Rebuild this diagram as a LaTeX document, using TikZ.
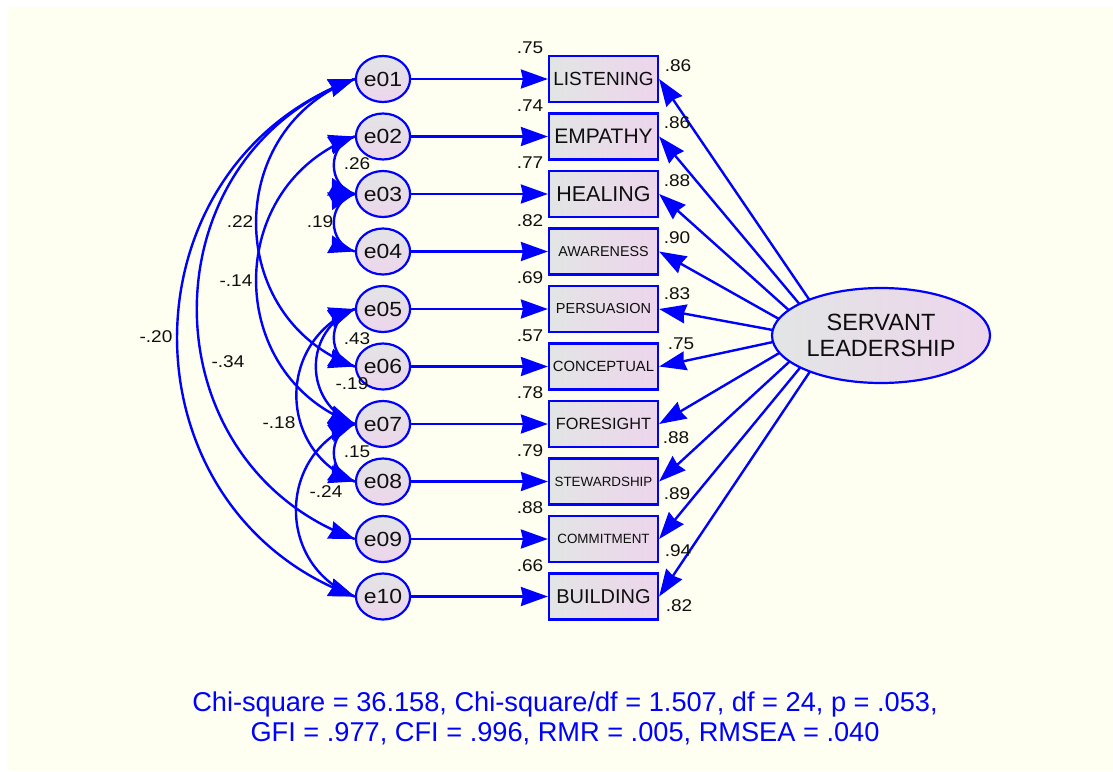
\documentclass[tikz,border=0pt]{standalone}
\usepackage{fontspec}
\setmainfont{Liberation Sans}
\newfontfamily\numfont[FakeStretch=1.12]{Liberation Sans}
\usetikzlibrary{arrows.meta,decorations.markings,shapes.geometric}
\definecolor{bgc}{RGB}{254,255,240}
\definecolor{gA}{RGB}{226,229,229}
\definecolor{gB}{RGB}{237,213,236}
\definecolor{txt}{RGB}{15,15,15}
\definecolor{ablue}{RGB}{0,0,255}
\newcommand\covpair[4]{%
  \draw[covline] (#1.west) to[bend right=#3,looseness=#4] (#2.west);
  \path[covtip] (#1.west) to[bend right=#3,looseness=#4] (#2.west);
  \path[covtip] (#2.west) to[bend left=#3,looseness=#4] (#1.west);}
\begin{document}
\begin{tikzpicture}[x=1pt,y=-1pt,
  errnode/.style={ellipse, draw=ablue, line width=2.2pt, top color=gA, bottom color=gB,
    minimum width=50pt, minimum height=46pt, inner sep=0pt, text=txt,
    font=\numfont\fontsize{20.5}{20.5}\selectfont},
  obs/.style={rectangle, draw=ablue, line width=2.2pt, left color=gA, right color=gB,
    minimum width=109pt, minimum height=46pt, inner sep=0pt, text=txt},
  lat/.style={ellipse, draw=ablue, line width=2.2pt, left color=gA, right color=gB,
    minimum width=218pt, minimum height=95pt, inner sep=0pt, text=txt, align=center,
    font=\fontsize{23.5}{26}\selectfont},
  reg/.style={draw=ablue, line width=2.4pt, -{Stealth[length=27pt,width=19pt,inset=2pt]}},
  covline/.style={draw=ablue, line width=2.4pt},
  covtip/.style={postaction={decorate},
    decoration={markings,
      mark=at position 0.0001 with {\arrowreversed[color=ablue,line width=2.4pt]{Stealth[length=26pt,width=18pt,inset=2pt]}}}},
  num/.style={text=txt, font=\numfont\fontsize{17}{17}\selectfont, inner sep=0pt},
]
\fill[white] (0,0) rectangle (1113,771);
\fill[bgc] (8,7) rectangle (1113,771);
\useasboundingbox (0,0) rectangle (1113,771);

% error terms
\node[errnode] (e01) at (383,79) {e01};
\node[errnode] (e02) at (383,136.5) {e02};
\node[errnode] (e03) at (383,194) {e03};
\node[errnode] (e04) at (383,251.5) {e04};
\node[errnode] (e05) at (383,309) {e05};
\node[errnode] (e06) at (383,366.5) {e06};
\node[errnode] (e07) at (383,424) {e07};
\node[errnode] (e08) at (383,481.5) {e08};
\node[errnode] (e09) at (383,539) {e09};
\node[errnode] (e10) at (383,596.5) {e10};

% observed variables
\node[obs, font=\fontsize{19}{19}\selectfont] (b01) at (603.5,79) {LISTENING};
\node[obs, font=\fontsize{21}{21}\selectfont] (b02) at (603.5,136.5) {EMPATHY};
\node[obs, font=\fontsize{21.5}{21.5}\selectfont] (b03) at (603.5,194) {HEALING};
\node[obs, font=\fontsize{14.3}{14.3}\selectfont] (b04) at (603.5,251.5) {AWARENESS};
\node[obs, font=\fontsize{14.5}{14.5}\selectfont] (b05) at (603.5,309) {PERSUASION};
\node[obs, font=\fontsize{14.8}{14.8}\selectfont] (b06) at (603.5,366.5) {CONCEPTUAL};
\node[obs, font=\fontsize{16.3}{16.3}\selectfont] (b07) at (603.5,424) {FORESIGHT};
\node[obs, font=\fontsize{13.4}{13.4}\selectfont] (b08) at (603.5,481.5) {STEWARDSHIP};
\node[obs, font=\fontsize{13.4}{13.4}\selectfont] (b09) at (603.5,539) {COMMITMENT};
\node[obs, font=\fontsize{20}{20}\selectfont] (b10) at (603.5,596.5) {BUILDING};

% latent
\node[lat] (sl) at (881,335.5) {SERVANT\\LEADERSHIP};
% start points of the loadings on the latent's border
\coordinate (s01) at (809.5,300.0);
\coordinate (s02) at (799.6,304.2);
\coordinate (s03) at (789.0,310.3);
\coordinate (s04) at (779.0,319.0);
\coordinate (s05) at (772.8,330.0);
\coordinate (s06) at (773.0,342.0);
\coordinate (s07) at (779.6,352.8);
\coordinate (s08) at (789.8,361.3);
\coordinate (s09) at (800.5,367.2);
\coordinate (s10) at (810.2,371.2);

% error paths
\foreach \i in {01,02,03,04,05,06,07,08,09,10}
  \draw[reg] (e\i) -- (b\i);

% loadings
\foreach \i in {01,02,03,04,05,06,07,08,09,10}
  \draw[reg] (s\i) -- (b\i.east);

% covariances
\covpair{e01}{e06}{70}{1.25}
\covpair{e01}{e09}{70}{1.25}
\covpair{e01}{e10}{70}{1.25}
\covpair{e02}{e07}{70}{1.25}
\covpair{e02}{e03}{74}{1.3}
\covpair{e03}{e04}{74}{1.3}
\covpair{e05}{e06}{74}{1.3}
\covpair{e05}{e07}{68}{1.25}
\covpair{e05}{e08}{68}{1.25}
\covpair{e07}{e08}{74}{1.3}
\covpair{e07}{e10}{69}{1.25}

% correlation labels
\node[num] (c0203) at (357,164) {.26};
\node[num] (c0304) at (320,222) {.19};
\node[num] (c0506) at (357,339) {.43};
\node[num] (c0507) at (352,384) {-.19};
\node[num] (c0708) at (357,452) {.15};
\node[num] (c0710) at (326,492) {-.24};
\node[num] (c0508) at (279,423) {-.18};
\node[num] (c0109) at (228,362) {-.34};
\node[num] (c0110) at (156,337) {-.20};
\node[num] (c0106) at (240,222) {.22};
\node[num] (c0207) at (236,281) {-.14};

% squared multiple correlations
\node[num] (r01) at (530,48) {.75};
\node[num] (r02) at (530,105.5) {.74};
\node[num] (r03) at (530,163) {.77};
\node[num] (r04) at (530,220.5) {.82};
\node[num] (r05) at (530,278) {.69};
\node[num] (r06) at (530,335.5) {.57};
\node[num] (r07) at (530,393) {.78};
\node[num] (r08) at (530,450.5) {.79};
\node[num] (r09) at (530,508) {.88};
\node[num] (r10) at (530,565.5) {.66};

% loadings labels
\node[num] (l01) at (678,66) {.86};
\node[num] (l02) at (677,123) {.86};
\node[num] (l03) at (677,181) {.88};
\node[num] (l04) at (677,238) {.90};
\node[num] (l05) at (677,294) {.83};
\node[num] (l06) at (681,344) {.75};
\node[num] (l07) at (676,438) {.88};
\node[num] (l08) at (677,494) {.89};
\node[num] (l09) at (678,551) {.94};
\node[num] (l10) at (679,606) {.82};

% fit indices
\node[text=ablue, align=center, inner sep=0pt, font=\fontsize{27.2}{30}\selectfont] (fit) at (565,718)
  {Chi-square = 36.158, Chi-square/df = 1.507, df = 24, p = .053,\\GFI = .977, CFI = .996, RMR = .005, RMSEA = .040};
\end{tikzpicture}
\end{document}
